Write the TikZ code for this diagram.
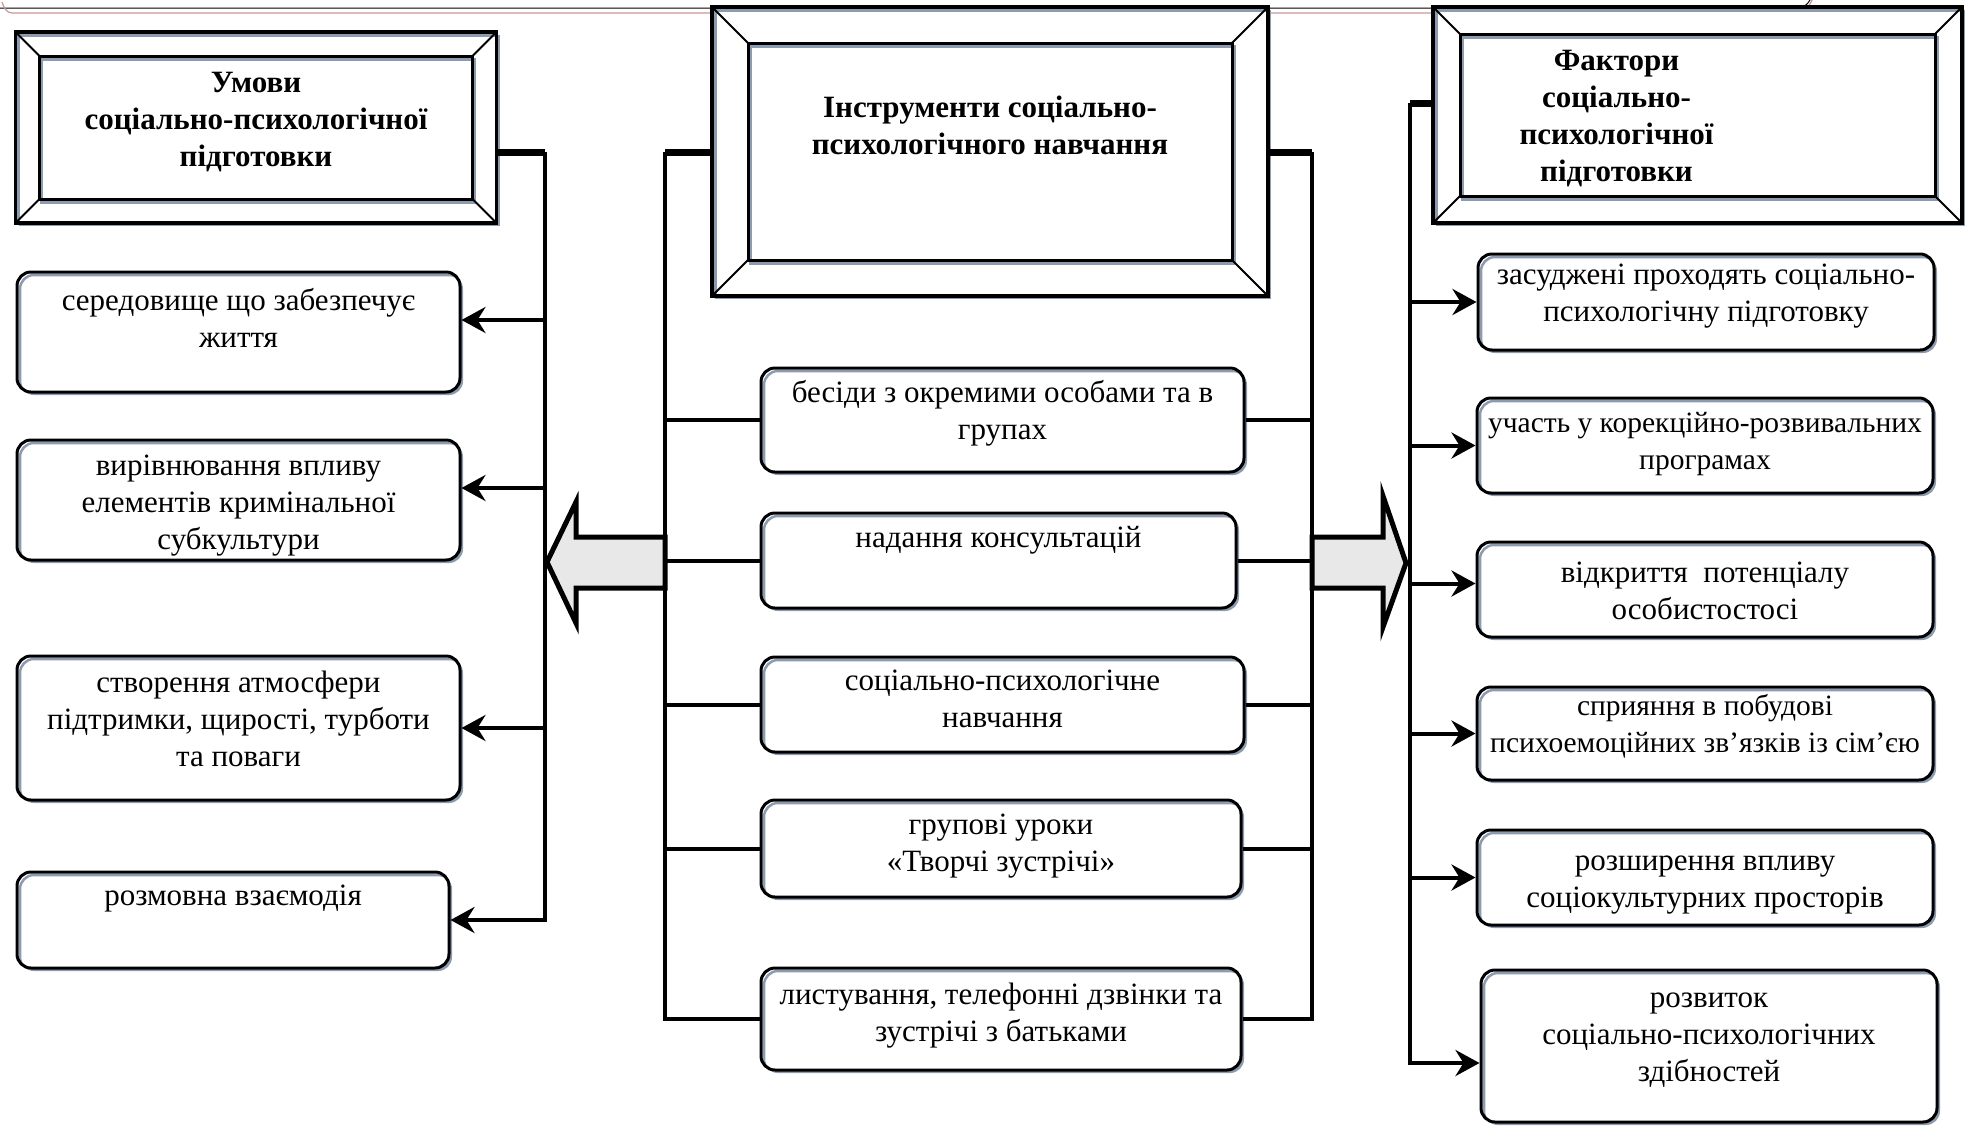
\documentclass[tikz,border=0pt]{standalone}
\usepackage{fontspec}
\setmainfont{Liberation Serif}
\usetikzlibrary{arrows.meta,shadows}

\definecolor{shadowc}{RGB}{140,155,176}
\definecolor{arrowfill}{RGB}{232,232,232}
\definecolor{pinkline}{RGB}{200,150,150}

% text block of a box: first baseline, width, height, text
\newcommand{\cellbox}[4][35pt]{\begin{minipage}[c][#3][t]{#2}\centering\rule{0pt}{#1}#4\end{minipage}}

\begin{document}
\begin{tikzpicture}[x=1pt,y=-1pt,
  rbox/.style={draw, line width=3pt, rounded corners=14pt, inner sep=0pt, fill=white,
    font={\fontsize{31}{37}\selectfont},
    drop shadow={shadow xshift=3pt, shadow yshift=-3pt, fill=shadowc, opacity=1},
    path picture={\draw[shadowc, line width=2.5pt, rounded corners=14pt]
      ([xshift=3pt,yshift=-3pt]path picture bounding box.north west) rectangle
      ([xshift=3pt,yshift=-3pt]path picture bounding box.south east);}},
  narrow/.style={font={\fontsize{29.5}{37}\selectfont}},
  ttlframe/.style={draw, line width=3.5pt, inner sep=0pt, fill=white,
    font={\fontsize{31}{37}\selectfont\bfseries},
    drop shadow={shadow xshift=3pt, shadow yshift=-3pt, fill=shadowc, opacity=1},
    path picture={
      \draw[shadowc, line width=3pt]
        ([xshift=3pt,yshift=-3pt]path picture bounding box.north west) rectangle
        ([xshift=3pt,yshift=-3pt]path picture bounding box.south east)
        ([xshift=#1pt+2pt,yshift=-#1pt-3pt]path picture bounding box.north west) rectangle
        ([xshift=-#1pt+2pt,yshift=#1pt-3pt]path picture bounding box.south east);
      \draw[line width=3pt]
        ([xshift=#1pt,yshift=-#1pt]path picture bounding box.north west) rectangle
        ([xshift=-#1pt,yshift=#1pt]path picture bounding box.south east);
      \draw[line width=2pt]
        (path picture bounding box.north west) -- ++(#1pt,-#1pt)
        (path picture bounding box.north east) -- ++(-#1pt,-#1pt)
        (path picture bounding box.south west) -- ++(#1pt,#1pt)
        (path picture bounding box.south east) -- ++(-#1pt,#1pt);}},
  bus/.style={line width=4pt},
  stub/.style={line width=7pt},
  arr/.style={line width=4pt, -{Stealth[length=24pt,width=26pt,inset=8pt]}},
  bigarr/.style={line width=5pt, fill=arrowfill}]

  \useasboundingbox (0,0) rectangle (1973,1125);

  % page edge
  \draw[line width=1pt] (0,8) -- (1797,8) to[out=0,in=-120] (1810,0);
  \draw[pinkline, line width=1.2pt] (2,2) to[out=-70,in=180] (12,13) -- (1790,13) to[out=0,in=-110] (1812,0);

  % wide arrows
  \draw[bigarr] (665,537) -- (576,537) -- (576,502) -- (547,562) -- (576,623) -- (576,588) -- (665,588) -- cycle;
  \draw[bigarr] (1312,537) -- (1383,537) -- (1383,496) -- (1406,563) -- (1383,627) -- (1383,588) -- (1312,588) -- cycle;

  % headings
  \node[ttlframe=24] (tl) at (256,127.5) {\cellbox[60pt]{481pt}{191pt}{Умови\\соціально-психологічної\\підготовки}};
  \node[ttlframe=36] (tc) at (990,151.5) {\cellbox[110pt]{556pt}{289pt}{Інструменти соціально-\\психологічного навчання}};
  \node[ttlframe=27] (tr) at (1697.5,115) {\cellbox[63pt]{529pt}{216pt}{\hspace*{-162pt}\begin{tabular}[t]{@{}c@{}}Фактори\\соціально-\\психологічної\\підготовки\end{tabular}}};

  % left column
  \node[rbox] (l1) at (238.5,332) {\cellbox[38pt]{443pt}{120pt}{середовище що забезпечує\\життя}};
  \node[rbox] (l2) at (238.5,500) {\cellbox{443pt}{120pt}{вирівнювання впливу\\елементів кримінальної\\субкультури}};
  \node[rbox] (l3) at (238.5,728) {\cellbox[36pt]{443pt}{144pt}{створення атмосфери\\підтримки, щирості, турботи\\та поваги}};
  \node[rbox] (l4) at (233,920) {\cellbox[33pt]{432pt}{96pt}{розмовна взаємодія}};

  % middle column
  \node[rbox] (c1) at (1002.5,420) {\cellbox[34pt]{483pt}{104pt}{бесіди з окремими особами та в\\групах}};
  \node[rbox] (c2) at (998.5,560.5) {\cellbox[34pt]{475pt}{95pt}{надання консультацій}};
  \node[rbox] (c3) at (1002.5,704.5) {\cellbox[33pt]{483pt}{95pt}{соціально-психологічне\\навчання}};
  \node[rbox] (c4) at (1001,848.5) {\cellbox[34pt]{480pt}{97pt}{групові уроки\\«Творчі зустрічі»}};
  \node[rbox] (c5) at (1001,1019) {\cellbox[36pt]{480pt}{102pt}{листування, телефонні дзвінки та\\зустрічі з батьками}};

  % right column
  \node[rbox] (r1) at (1706,302) {\cellbox[30pt]{456pt}{96pt}{засуджені проходять соціально-\\психологічну підготовку}};
  \node[rbox, narrow] (r2) at (1705,445.5) {\cellbox[34pt]{456pt}{95pt}{участь у корекційно-розвивальних\\програмах}};
  \node[rbox] (r3) at (1705,589.5) {\cellbox[40pt]{456pt}{95pt}{відкриття~~потенціалу\\особистостосі}};
  \node[rbox, narrow] (r4) at (1705,733.5) {\cellbox[28pt]{456pt}{93pt}{сприяння в побудові\\психоемоційних зв’язків із сім’єю}};
  \node[rbox] (r5) at (1705,877.5) {\cellbox[40pt]{456pt}{95pt}{розширення впливу\\соціокультурних просторів}};
  \node[rbox] (r6) at (1709,1046) {\cellbox[37pt]{456pt}{152pt}{розвиток\\соціально-психологічних\\здібностей}};

  % buses
  \coordinate (lb1) at (545,152);  \coordinate (lb2) at (545,920);
  \coordinate (cl1) at (665,152);  \coordinate (cl2) at (665,1019);
  \coordinate (cr1) at (1312,152); \coordinate (cr2) at (1312,1019);
  \coordinate (rb1) at (1410,103); \coordinate (rb2) at (1410,1063);

  \draw[stub] (tl.east |- lb1) -- (lb1);
  \draw[bus, arr] (lb1) -- (lb2) -- (l4.east |- lb2);
  \draw[arr] ([yshift=12pt]lb1 |- l1.east) -- ([yshift=12pt]l1.east);
  \draw[arr] ([yshift=12pt]lb1 |- l2.east) -- ([yshift=12pt]l2.east);
  \draw[arr] (lb1 |- l3.east) -- (l3.east);

  \draw[stub] (cl1) -- (tc.west |- cl1);
  \draw[stub] (tc.east |- cr1) -- (cr1);
  \draw[bus] (cl1) -- (cl2) -- (c5.west);
  \draw[bus] (cr1) -- (cr2) -- (c5.east);
  \foreach \n in {c1,c2,c3,c4}
    \draw[bus] (cl1 |- \n.west) -- (\n.west) (\n.east) -- (cr1 |- \n.east);

  \draw[stub] (tr.west |- rb1) -- (rb1);
  \draw[bus, arr] (rb1) -- (rb2) -- (r6.west |- rb2);
  \foreach \n in {r1,r2,r4,r5}
    \draw[arr] (rb1 |- \n.west) -- (\n.west);
  \draw[arr] ([yshift=6pt]rb1 |- r3.west) -- ([yshift=6pt]r3.west);
\end{tikzpicture}
\end{document}
